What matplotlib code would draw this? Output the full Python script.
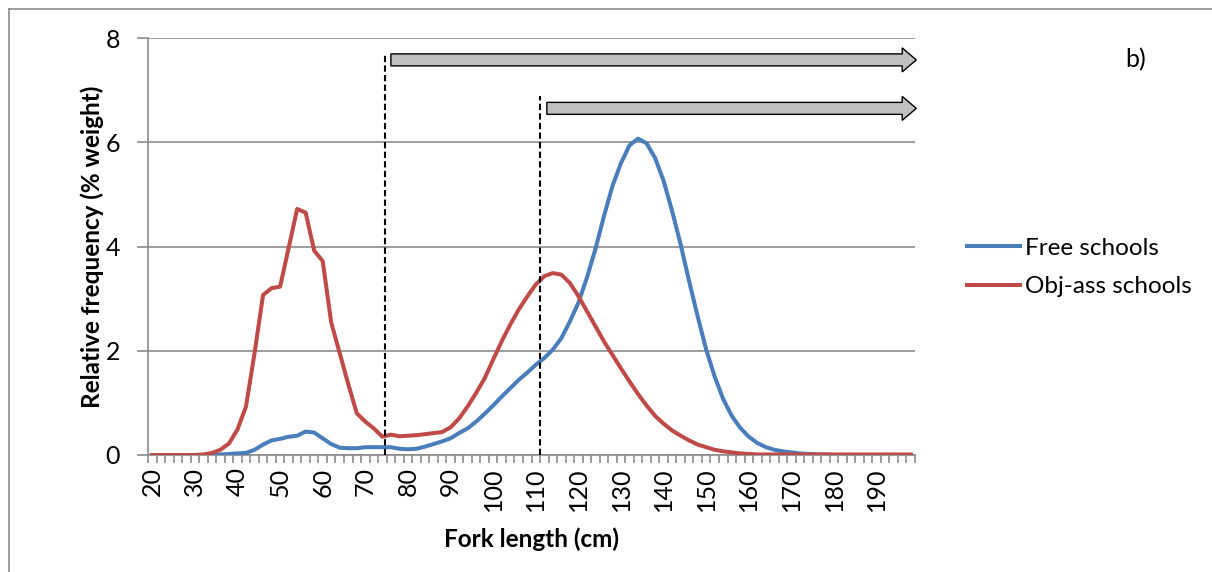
import matplotlib
matplotlib.use("Agg")
import matplotlib.pyplot as plt
from matplotlib.lines import Line2D
from matplotlib.patches import FancyArrow

plt.rcParams['font.family'] = ['Lato', 'DejaVu Sans']

# ---- data ----
fork_length = list(range(20, 200, 2))
free_schools = [0, 0, 0, 0, 0, 0, 0, 0, 0.01, 0.02,
                0.03, 0.04, 0.10, 0.20, 0.28, 0.31, 0.35, 0.37, 0.45, 0.43,
                0.32, 0.21, 0.14, 0.13, 0.13, 0.15, 0.15, 0.15, 0.15, 0.12,
                0.11, 0.12, 0.16, 0.21, 0.26, 0.32, 0.42, 0.51, 0.64, 0.79,
                0.95, 1.12, 1.28, 1.44, 1.58, 1.73, 1.86, 2.02, 2.24, 2.56,
                2.92, 3.40, 3.95, 4.58, 5.16, 5.60, 5.94, 6.07, 5.98, 5.70,
                5.26, 4.68, 4.04, 3.33, 2.66, 2.02, 1.50, 1.07, 0.75, 0.52,
                0.35, 0.23, 0.15, 0.10, 0.07, 0.05, 0.03, 0.02, 0.01, 0.01,
                0, 0, 0, 0, 0, 0, 0, 0, 0, 0]
objass_schools = [0, 0, 0, 0, 0, 0, 0.01, 0.04, 0.10, 0.22,
                  0.49, 0.93, 1.95, 3.07, 3.20, 3.23, 3.97, 4.72, 4.65, 3.92,
                  3.72, 2.54, 1.95, 1.36, 0.80, 0.64, 0.51, 0.35, 0.39, 0.36,
                  0.37, 0.38, 0.40, 0.42, 0.44, 0.53, 0.70, 0.93, 1.19, 1.47,
                  1.83, 2.18, 2.50, 2.79, 3.04, 3.27, 3.43, 3.49, 3.46, 3.30,
                  3.05, 2.76, 2.47, 2.18, 1.92, 1.66, 1.41, 1.17, 0.95, 0.75,
                  0.60, 0.47, 0.37, 0.28, 0.20, 0.15, 0.10, 0.07, 0.05, 0.03,
                  0.02, 0.01, 0.01, 0.01, 0.01, 0.01, 0.01, 0.01, 0.01, 0.01,
                  0.01, 0.01, 0.01, 0.01, 0.01, 0.01, 0.01, 0.01, 0.01, 0.01]
series_names = ["Free schools", "Obj-ass schools"]
x_tick_labels = list(range(20, 200, 10))
y_ticks = [0, 2, 4, 6, 8]
threshold_lengths = [74.6, 111.1]
threshold_tops = [7.68, 6.89]
arrow_starts = [76.0, 112.6]
arrow_levels = [7.58, 6.65]

BLUE = "#4A7EBB"
RED = "#BE4B48"
GRID = "#8C8C8C"

fig = plt.figure(figsize=(12.12, 5.72), dpi=100)
W, H = 1212, 572
ax = fig.add_axes([148 / W, 1 - 455 / H, (915 - 148) / W, (455 - 38) / H])

ax.plot(fork_length, free_schools, color=BLUE, lw=2.9, label=series_names[0],
        solid_joinstyle='round', zorder=3)
ax.plot(fork_length, objass_schools, color=RED, lw=2.9, label=series_names[1],
        solid_joinstyle='round', zorder=3)

ax.set_xlim(19, 199)
ax.set_ylim(0, 8)

ax.set_yticks(y_ticks)
ax.set_yticklabels([str(v) for v in y_ticks], fontsize=18)
ax.yaxis.grid(True, color=GRID, lw=1.2)
ax.set_axisbelow(True)

ax.set_xticks(x_tick_labels)
ax.set_xticklabels([str(v) for v in x_tick_labels], rotation=90, fontsize=18)
ax.set_xticks([v - 1 for v in fork_length] + [199], minor=True)
ax.tick_params(axis='x', which='major', length=0, pad=9)
ax.tick_params(axis='x', which='minor', length=6, width=1.2, color=GRID, direction='out')
ax.tick_params(axis='y', which='major', length=8, width=1.2, color=GRID, pad=12)

for s in ['top', 'right']:
    ax.spines[s].set_visible(False)
for s in ['left', 'bottom']:
    ax.spines[s].set_color(GRID)
    ax.spines[s].set_linewidth(1.2)

ax.set_xlabel("Fork length (cm)", fontsize=17.5, fontweight='bold', labelpad=12)
ax.set_ylabel("Relative frequency (% weight)", fontsize=17.5, fontweight='bold', labelpad=1)

# threshold dashed lines
for xv, top in zip(threshold_lengths, threshold_tops):
    ax.plot([xv, xv], [0, top], color='black', lw=1.5, ls=(0, (3, 1.6)), zorder=4)

# arrows
for xs, yv in zip(arrow_starts, arrow_levels):
    arr = FancyArrow(xs, yv, 199.3 - xs, 0, width=0.23, head_width=0.46,
                     head_length=3.3, length_includes_head=True,
                     facecolor='#C0C0C0', edgecolor='black', lw=1.0, zorder=5,
                     clip_on=False)
    ax.add_patch(arr)

# legend
leg = fig.legend(loc='center left', bbox_to_anchor=(967 / W, 1 - 267.5 / H),
                 frameon=False, fontsize=17.5, handlelength=2.2, handletextpad=0.2,
                 labelspacing=0.7, borderpad=0, borderaxespad=0)

fig.text(1136 / W, 1 - 60 / H, "b)", fontsize=18, ha='center', va='center')

# outer frame (left and top edges visible)
fig.add_artist(Line2D([8.5 / W, 8.5 / W], [0, 1 - 9 / H], transform=fig.transFigure,
                      color=GRID, lw=1.2))
fig.add_artist(Line2D([8.5 / W, 1], [1 - 9 / H, 1 - 9 / H], transform=fig.transFigure,
                      color=GRID, lw=1.2))

fig.savefig("out.png", dpi=100)
